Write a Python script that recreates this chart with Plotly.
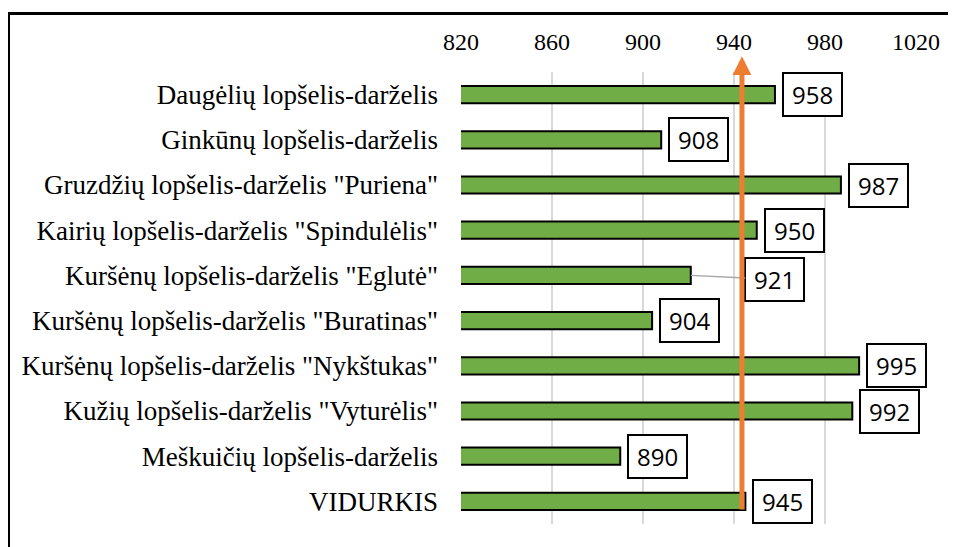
import plotly.graph_objects as go

# darželių vidutiniai rodikliai
categories = [
    'Daugėlių lopšelis-darželis',
    'Ginkūnų lopšelis-darželis',
    'Gruzdžių lopšelis-darželis "Puriena"',
    'Kairių lopšelis-darželis "Spindulėlis"',
    'Kuršėnų lopšelis-darželis "Eglutė"',
    'Kuršėnų lopšelis-darželis "Buratinas"',
    'Kuršėnų lopšelis-darželis "Nykštukas"',
    'Kužių lopšelis-darželis "Vyturėlis"',
    'Meškuičių lopšelis-darželis',
    'VIDURKIS',
]
values = [958, 908, 987, 950, 921, 904, 995, 992, 890, 945]
tick_vals = [820, 860, 900, 940, 980, 1020]
avg_marker = 943.5  # orange arrow drawn by hand in the original

fig = go.Figure()
fig.add_trace(go.Bar(
    y=categories, x=values, orientation='h', width=0.38,
    marker=dict(color='#70AD47', line=dict(color='black', width=2)),
    hoverinfo='x+y',
))

serif = 'Liberation Serif, Times New Roman, serif'
lbl_font = dict(family='Open Sans', size=24, color='black')
pad = '\u2009'

# value labels in boxes
for c, v in zip(categories, values):
    txt = pad + str(v) + pad
    if c.endswith('"Eglutė"'):
        # this one was moved right of the orange line, with a leader line
        fig.add_annotation(x=v, y=c, text=txt, showarrow=True, arrowhead=0,
                           arrowcolor='#a6a6a6', arrowwidth=1.3, ax=84, ay=4,
                           standoff=0, startstandoff=0,
                           bgcolor='white', bordercolor='black', borderwidth=2,
                           borderpad=4, font=lbl_font)
    else:
        fig.add_annotation(x=v, y=c, text=txt, showarrow=False, xanchor='left',
                           xshift=7, bgcolor='white', bordercolor='black',
                           borderwidth=2, borderpad=4, font=lbl_font)

# orange arrow
fig.add_annotation(x=avg_marker, y=-0.85, ax=avg_marker, ay=9.21,
                   xref='x', yref='y', axref='x', ayref='y',
                   text='', showarrow=True, arrowhead=2, arrowsize=0.75,
                   arrowwidth=5, arrowcolor='#ED7D31', standoff=0)

# outer frame (cut off at right and bottom)
fig.add_shape(type='rect', xref='paper', yref='paper',
              x0=-0.9945, x1=1.3, y0=-0.3, y1=1.1294,
              line=dict(color='black', width=3), layer='below')

fig.update_layout(
    width=956, height=547,
    margin=dict(l=453, r=48, t=64, b=31),
    plot_bgcolor='white', paper_bgcolor='white',
    showlegend=False,
    xaxis=dict(side='top', range=[820, 1020], tickvals=tick_vals,
               showgrid=True, gridcolor='#d9d9d9', gridwidth=2,
               zeroline=False, showline=False, ticks='',
               ticklabelstandoff=16,
               tickfont=dict(family=serif, size=24, color='black')),
    yaxis=dict(autorange=False, range=[9.5, -0.5], showgrid=False,
               ticks='', ticklabelstandoff=22,
               tickfont=dict(family=serif, size=27, color='black')),
)

fig.write_html("out.html")
